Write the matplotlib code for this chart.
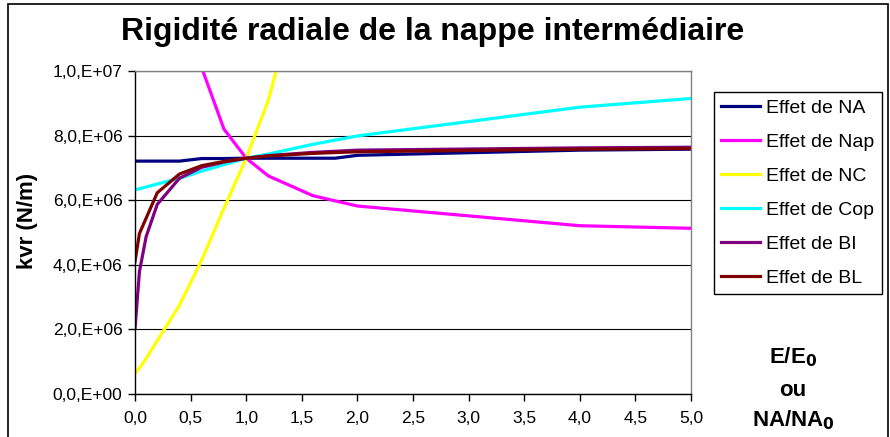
import matplotlib
matplotlib.use("Agg")
import matplotlib.pyplot as plt
from matplotlib.patches import Rectangle

plt.rcParams['font.family'] = ['Liberation Sans', 'DejaVu Sans']

# ---- data (kvr in N/m) ----
x_na = [0, 0.2, 0.4, 0.6, 0.8, 1.0, 1.2, 1.6, 1.8, 2.0, 4.0, 5.0]
y_na = [7.21e6, 7.21e6, 7.21e6, 7.29e6, 7.29e6, 7.30e6, 7.30e6, 7.30e6, 7.30e6, 7.39e6, 7.55e6, 7.58e6]

x_nap = [0.4, 0.6, 0.8, 1.0, 1.2, 1.6, 2.0, 4.0, 5.0]
y_nap = [13.5e6, 10.1e6, 8.2e6, 7.3e6, 6.75e6, 6.14e6, 5.82e6, 5.21e6, 5.13e6]

x_nc = [0, 0.05, 0.1, 0.4, 0.6, 0.8, 1.0, 1.2, 1.4]
y_nc = [0.64e6, 0.85e6, 1.1e6, 2.75e6, 4.15e6, 5.75e6, 7.3e6, 9.1e6, 11.7e6]

x_cop = [0, 0.2, 0.4, 0.6, 0.8, 1.0, 1.2, 1.6, 2.0, 4.0, 5.0]
y_cop = [6.32e6, 6.5e6, 6.68e6, 6.9e6, 7.1e6, 7.3e6, 7.43e6, 7.73e6, 7.99e6, 8.88e6, 9.15e6]

x_bi = [0, 0.04, 0.1, 0.2, 0.4, 0.6, 0.8, 1.0, 1.2, 1.6, 2.0, 4.0, 5.0]
y_bi = [2.03e6, 3.79e6, 4.87e6, 5.87e6, 6.68e6, 7.02e6, 7.18e6, 7.3e6, 7.38e6, 7.48e6, 7.55e6, 7.62e6, 7.64e6]

x_bl = [0, 0.04, 0.2, 0.4, 0.6, 0.8, 1.0, 1.2, 1.6, 2.0, 4.0, 5.0]
y_bl = [4.1e6, 4.97e6, 6.23e6, 6.81e6, 7.07e6, 7.2e6, 7.3e6, 7.37e6, 7.45e6, 7.5e6, 7.58e6, 7.6e6]

series_labels = ["Effet de NA", "Effet de Nap", "Effet de NC", "Effet de Cop", "Effet de BI", "Effet de BL"]
series_colors = ["#000080", "#FF00FF", "#FFFF00", "#00FFFF", "#800080", "#800000"]

x_ticks = [0, 0.5, 1.0, 1.5, 2.0, 2.5, 3.0, 3.5, 4.0, 4.5, 5.0]
x_ticklabels = ["0,0", "0,5", "1,0", "1,5", "2,0", "2,5", "3,0", "3,5", "4,0", "4,5", "5,0"]
y_ticks = [0, 2e6, 4e6, 6e6, 8e6, 1e7]
y_ticklabels = ["0,0,E+00", "2,0,E+06", "4,0,E+06", "6,0,E+06", "8,0,E+06", "1,0,E+07"]

title = "Rigidité radiale de la nappe intermédiaire"
ylabel = "kvr (N/m)"

# ---- figure ----
W, H = 890, 437
fig = plt.figure(figsize=(W / 100, H / 100), dpi=100)
ax = fig.add_axes([135 / W, (H - 394) / H, 556 / W, 323 / H])

xs = [x_na, x_nap, x_nc, x_cop, x_bi, x_bl]
ys = [y_na, y_nap, y_nc, y_cop, y_bi, y_bl]
for x, y, lab, c in zip(xs, ys, series_labels, series_colors):
    ax.plot(x, y, color=c, lw=2.3, label=lab, solid_joinstyle='round')

ax.set_xlim(0, 5)
ax.set_ylim(0, 1e7)
ax.set_xticks(x_ticks)
ax.set_xticklabels(x_ticklabels)
ax.set_yticks(y_ticks)
ax.set_yticklabels(y_ticklabels)
ax.tick_params(axis='both', direction='out', length=5, width=1, labelsize=12.5, colors='black', pad=4)
ax.tick_params(axis='x', pad=7)
ax.grid(axis='y', color='black', lw=0.8)
ax.set_axisbelow(True)
for s in ['top', 'right']:
    ax.spines[s].set_color('#808080')
    ax.spines[s].set_linewidth(1)
for s in ['left', 'bottom']:
    ax.spines[s].set_color('black')
    ax.spines[s].set_linewidth(1)

fig.text(433 / W, 1 - 32 / H, title, ha='center', va='center', fontsize=23, fontweight='bold')
fig.text(27 / W, 1 - 221 / H, ylabel, ha='center', va='center', rotation=90, fontsize=16, fontweight='bold')

fig.text(793 / W, 1 - 357 / H, r"E/E$_\mathbf{0}$", ha='center', va='center', fontsize=16, fontweight='bold')
fig.text(793 / W, 1 - 390 / H, "ou", ha='center', va='center', fontsize=16, fontweight='bold')
fig.text(793 / W, 1 - 420 / H, r"NA/NA$_\mathbf{0}$", ha='center', va='center', fontsize=16, fontweight='bold')

leg = fig.legend(loc='upper left', bbox_to_anchor=(714 / W, 1 - 92 / H), fontsize=14,
                 frameon=True, fancybox=False, edgecolor='black', framealpha=1,
                 handlelength=2.0, handletextpad=0.3, labelspacing=0.84, borderpad=0.38,
                 borderaxespad=0)
leg.get_frame().set_linewidth(1)

fig.patches.append(Rectangle((8 / W, -0.05), 880 / W, 1.05 - 4 / H, transform=fig.transFigure,
                             fill=False, edgecolor='black', lw=1.2, clip_on=False))

fig.savefig("out.png", dpi=100)
